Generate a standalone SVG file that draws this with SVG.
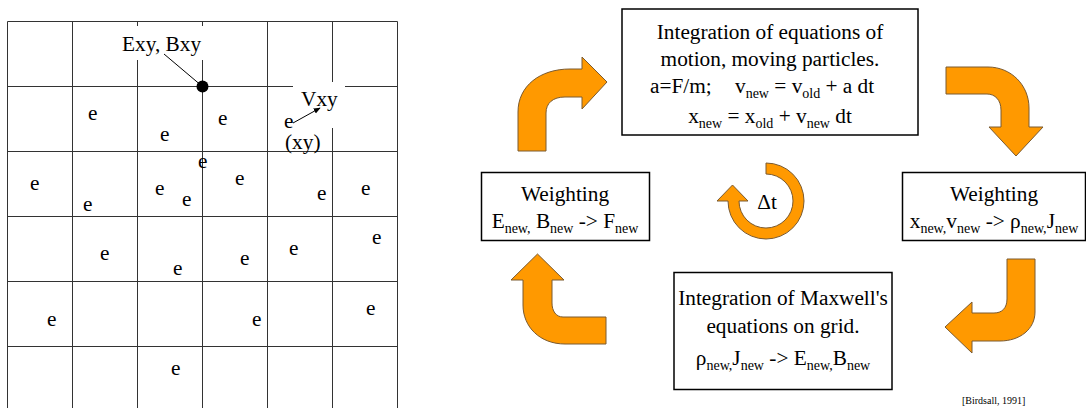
<svg xmlns="http://www.w3.org/2000/svg" width="1086" height="408" viewBox="0 0 1086 408">
<style>
.t{font-family:"Liberation Serif","DejaVu Serif",serif;font-size:21.3px;fill:#000}
.s{font-size:14px}
.g{stroke:#333;stroke-width:1;fill:none}
.box{fill:#fff;stroke:#000;stroke-width:1.5}
.arr{fill:#FF9900;stroke:#7a5a30;stroke-width:1}
</style>
<defs>
<marker id="ah" viewBox="0 0 10 10" refX="9" refY="5" markerWidth="7" markerHeight="7" orient="auto" markerUnits="userSpaceOnUse">
<path d="M0,1 L10,5 L0,9 Z" fill="#000"/>
</marker>
</defs>
<rect width="1086" height="408" fill="#fff"/>
<g id="grid">
<path class="g" d="M7.5,21.5H397.5M7.5,86.5H397.5M7.5,151.5H397.5M7.5,216.5H397.5M7.5,281.5H397.5M7.5,346.5H397.5M7.5,21.5V408M72.5,21.5V408M137.5,21.5V408M202.5,21.5V408M267.5,21.5V408M332.5,21.5V408M397.5,21.5V408"/>
<rect x="120" y="26" width="84" height="34" fill="#fff"/>
<rect x="293" y="82" width="52" height="46" fill="#fff"/>
<text class="t" x="122" y="51">Exy, Bxy</text>
<line x1="164" y1="54" x2="202.5" y2="86.5" stroke="#000" stroke-width="1"/>
<circle cx="202.5" cy="86.5" r="6" fill="#000"/>
<text class="t" x="301" y="106">Vxy</text>
<text class="t" x="284" y="128">e</text>
<text class="t" x="285" y="149">(xy)</text>
<line x1="293" y1="123" x2="320" y2="108" stroke="#000" stroke-width="1" marker-end="url(#ah)"/>
<g class="t">
<text x="88" y="120">e</text>
<text x="160" y="141">e</text>
<text x="218" y="125">e</text>
<text x="198" y="168">e</text>
<text x="30" y="190">e</text>
<text x="235" y="185">e</text>
<text x="155" y="195">e</text>
<text x="182" y="206">e</text>
<text x="83" y="211">e</text>
<text x="317" y="200">e</text>
<text x="361" y="195">e</text>
<text x="100" y="260">e</text>
<text x="289" y="255">e</text>
<text x="372" y="244">e</text>
<text x="240" y="265">e</text>
<text x="173" y="275">e</text>
<text x="47" y="326">e</text>
<text x="252" y="326">e</text>
<text x="366" y="315">e</text>
<text x="171" y="375">e</text>
</g>
</g>
<g id="connectors">
<path class="arr" d="M518,151 L518,112 C518,86 540,69 570,69 L582,69 L582,57 L607,82 L582,109 L582,97 L565,97 C553,97 546,103 546,113 L546,151 Z"/>
<path class="arr" d="M946,67 L988,67 C1011,67 1029,85 1029,108 L1029,127 L1043,127 L1016,156 L989,127 L1001,127 L1001,110 C1001,100 995,94 987,94 L946,94 Z"/>
<path class="arr" d="M1007,259 L1035,259 L1035,312 C1035,329 1020,341 1000,341 L972,341 L972,353 L945,327 L972,302 L972,313 L994,313 C1002,313 1007,308 1007,299 Z"/>
<path class="arr" d="M606,317 L563,317 C556,317 552,311 552,303 L552,280 L564,280 L537.5,254 L511,280 L523,280 L523,305 C523,327 540,344 565,344 L606,344 Z"/>
<path class="arr" d="M766,163 A38,38 0 1 1 728,201 L717,201 L732.5,185 L748,201 L739,201 A27,27 0 1 0 766,174 Z"/>
</g>
<g id="dt">
<text class="t" x="767" y="209" text-anchor="middle">Δt</text>
</g>
<g id="motion">
<rect class="box" x="622" y="9" width="296" height="126"/>
<text class="t" x="770" y="39" text-anchor="middle">Integration of equations of</text>
<text class="t" x="770" y="66" text-anchor="middle">motion, moving particles.</text>
<text class="t" x="650" y="93">a=F/m;</text>
<text class="t" x="735" y="93">v<tspan class="s" dy="5">new</tspan><tspan dy="-5"> = v</tspan><tspan class="s" dy="5">old</tspan><tspan dy="-5"> + a dt</tspan></text>
<text class="t" x="770" y="123" text-anchor="middle">x<tspan class="s" dy="5">new</tspan><tspan dy="-5"> = x</tspan><tspan class="s" dy="5">old</tspan><tspan dy="-5"> + v</tspan><tspan class="s" dy="5">new</tspan><tspan dy="-5"> dt</tspan></text>
</g>
<g id="weight-right">
<rect class="box" x="902.5" y="172.5" width="183" height="68"/>
<text class="t" x="994" y="201" text-anchor="middle">Weighting</text>
<text class="t" x="994" y="228" text-anchor="middle">x<tspan class="s" dy="5">new,</tspan><tspan dy="-5">v</tspan><tspan class="s" dy="5">new</tspan><tspan dy="-5"> -&gt; ρ</tspan><tspan class="s" dy="5">new,</tspan><tspan dy="-5">J</tspan><tspan class="s" dy="5">new</tspan></text>
</g>
<g id="weight-left">
<rect class="box" x="481.5" y="172.5" width="168" height="68"/>
<text class="t" x="565" y="201" text-anchor="middle">Weighting</text>
<text class="t" x="565" y="228" text-anchor="middle">E<tspan class="s" dy="5">new,</tspan><tspan dy="-5"> B</tspan><tspan class="s" dy="5">new</tspan><tspan dy="-5"> -&gt; F</tspan><tspan class="s" dy="5">new</tspan></text>
</g>
<g id="maxwell">
<rect class="box" x="674" y="272.5" width="218" height="117"/>
<text class="t" x="783" y="305" text-anchor="middle">Integration of Maxwell's</text>
<text class="t" x="783" y="333" text-anchor="middle">equations on grid.</text>
<text class="t" x="783" y="365" text-anchor="middle">ρ<tspan class="s" dy="5">new,</tspan><tspan dy="-5">J</tspan><tspan class="s" dy="5">new</tspan><tspan dy="-5"> -&gt; E</tspan><tspan class="s" dy="5">new,</tspan><tspan dy="-5">B</tspan><tspan class="s" dy="5">new</tspan></text>
</g>
<text class="t" x="962" y="404" style="font-size:10px">[Birdsall, 1991]</text>
</svg>
